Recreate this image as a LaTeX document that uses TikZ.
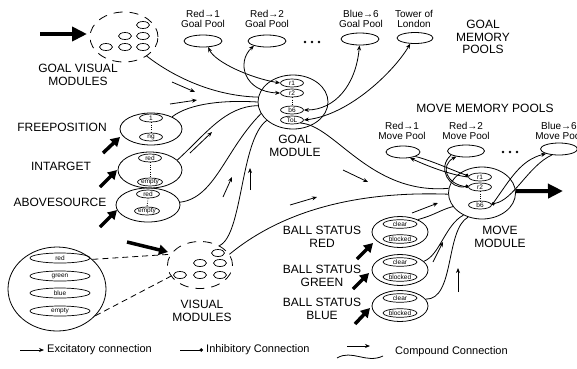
\documentclass[tikz,border=0pt]{standalone}
\usepackage{fontspec}
\setmainfont{Liberation Sans}
\usetikzlibrary{shapes.geometric,arrows.meta}
% cell inside a module: name, x, y, text
\newcommand{\slot}[4]{\node[slot] (#1) at (#2,#3) {#4};}
\newcommand{\bcell}[4]{\node[slot, minimum width=34pt, minimum height=8.5pt] (#1) at (#2,#3) {#4};}
\newcommand{\dotcell}[3]{\node[dotcell] (#1) at (#2,#3) {};}
% compound mark: name, x1, y1, x2, y2
\newcommand{\cmark}[5]{\coordinate (#1a) at (#2,#3); \coordinate (#1b) at (#4,#5); \draw[exc] (#1a) -- (#1b);}
% thick input arrow: name, x1, y1, x2, y2
\newcommand{\inarrow}[5]{\coordinate (#1a) at (#2,#3); \coordinate (#1b) at (#4,#5); \draw[midarr] (#1a) -- (#1b);}

\tikzset{
  lbl/.style={align=center, font=\fontsize{12}{12.5}\selectfont, inner sep=0pt},
  poollbl/.style={align=center, font=\fontsize{10}{10.5}\selectfont, inner sep=0pt},
  legtxt/.style={anchor=west, font=\fontsize{11}{11}\selectfont, inner sep=0pt},
  pool/.style={draw, ellipse, line width=0.8pt, minimum width=38pt, minimum height=12pt, inner sep=0pt},
  modl/.style={draw, ellipse, line width=0.8pt, inner sep=0pt},
  slot/.style={draw, ellipse, line width=0.7pt, minimum width=23pt, minimum height=8pt, inner sep=0pt, font=\fontsize{6.5}{6.5}\selectfont},
  ecell/.style={draw, ellipse, line width=0.7pt, minimum width=60pt, minimum height=10pt, inner sep=0pt, font=\fontsize{6.5}{6.5}\selectfont},
  dotcell/.style={draw, ellipse, line width=0.7pt, minimum width=13pt, minimum height=7pt, inner sep=0pt},
  dashring/.style={draw, ellipse, line width=0.8pt, dash pattern=on 9pt off 7pt, inner sep=0pt},
  link/.style={line width=0.8pt},
  exc/.style={line width=0.8pt, -{Stealth[length=5pt,width=4pt]}},
  biexc/.style={line width=0.8pt, {Stealth[length=5pt,width=4pt]}-{Stealth[length=5pt,width=4pt]}},
  inh/.style={line width=0.8pt, -{Circle[length=3.5pt]}},
  bigarr/.style={line width=4pt, -{Triangle[length=15pt,width=14pt]}},
  midarr/.style={line width=3.5pt, -{Triangle[length=9pt,width=10pt]}},
  vdots/.style={line width=0.8pt, dash pattern=on 0.8pt off 1.5pt},
}

\begin{document}
\begin{tikzpicture}[x=1pt, y=-1pt]
        \useasboundingbox (0,0) rectangle (577,368);
        \clip (0,0) rectangle (577,368);
        % goal visual modules
        \node[dashring, minimum width=68pt, minimum height=50pt] (gvm) at (124,37) {};
        \dotcell{g1}{143}{25}
        \dotcell{g2}{125}{36}
        \dotcell{g3}{143}{36}
        \dotcell{g4}{106}{47}
        \dotcell{g5}{125}{47}
        \dotcell{g6}{143}{47}
        \node[lbl] (lgvm) at (78,75) {GOAL VISUAL\\MODULES};
        \coordinate (gin) at (40,34);
        \coordinate (gtip) at (87,34);
        \draw[bigarr] (gin) -- (gtip);
        % goal memory pools
        \node[pool] (gp1) at (203,41) {};
        \node[poollbl] (lgp1) at (203,19) {Red→1\\Goal Pool};
        \node[pool] (gp2) at (267,41) {};
        \node[poollbl] (lgp2) at (267,19) {Red→2\\Goal Pool};
        \node[pool] (gp6) at (360,39) {};
        \node[poollbl] (lgp6) at (361,19) {Blue→6\\Goal Pool};
        \node[pool, minimum width=36pt, minimum height=11pt] (gtol) at (415,38) {};
        \node[poollbl] (lgtol) at (414,19) {Tower of\\London};
        \node[lbl] (lgmp) at (483,37) {GOAL\\MEMORY\\POOLS};
        \foreach \i in {0,1,2} \fill (305+7*\i,42) circle (1.4pt);
        % goal module
        \node[modl, minimum width=70pt, minimum height=54pt] (gm) at (293,102) {};
        \slot{gr1}{292}{83}{r1}
        \slot{gr2}{292}{93}{r2}
        \slot{gb6}{292}{110}{b6}
        \slot{gtl}{292}{120}{ToL}
        \draw[vdots] (gr2.south) -- (gb6.north);
        \node[lbl] (lgm) at (295,146) {GOAL\\MODULE};
        % move module
        \node[modl, minimum width=67pt, minimum height=52pt] (mm) at (482,193) {};
        \slot{mr1}{480}{177}{r1}
        \slot{mr2}{480}{187}{r2}
        \slot{mb6}{480}{205}{b6}
        \draw[vdots] (mr2.south) -- (mb6.north);
        \node[lbl] (lmm) at (500,237) {MOVE\\MODULE};
        \coordinate (mout) at (563,191);
        \draw[bigarr] (mm.3) -- (mout);
        % move memory pools
        \node[lbl] (lmmp) at (485,108) {MOVE MEMORY POOLS};
        \node[pool, minimum width=34pt] (mp1) at (403,152) {};
        \node[poollbl] (lmp1) at (402,131) {Red→1\\Move Pool};
        \node[pool, minimum width=37pt] (mp2) at (466,151) {};
        \node[poollbl] (lmp2) at (466,131) {Red→2\\Move Pool};
        \node[pool, minimum width=37pt] (mp6) at (559,149) {};
        \node[poollbl] (lmp6) at (559,131) {Blue→6\\Move Pool};
        \foreach \i in {0,1,2} \fill (503+7*\i,152) circle (1.4pt);
        % freeposition, intarget, abovesource
        \node[modl, minimum width=62pt, minimum height=32pt] (fp) at (151,129) {};
        \slot{fp1}{151}{118}{1}
        \slot{fpn}{151}{137}{ng}
        \draw[vdots] (fp1.south) -- (fpn.north);
        \node[lbl] (lfp) at (62,127) {FREEPOSITION};
        \inarrow{fpi}{103}{153}{120}{137}
        \node[modl, minimum width=64pt, minimum height=36pt] (it) at (150,170) {};
        \slot{itr}{150}{158}{red}
        \slot{ite}{150}{182}{empty}
        \draw[vdots] (itr.south) -- (ite.north);
        \node[lbl] (lit) at (61,166) {INTARGET};
        \inarrow{iti}{100}{187}{117}{170}
        \node[modl, minimum width=64pt, minimum height=34pt] (as) at (148,205) {};
        \slot{asr}{148}{194}{red}
        \slot{ase}{147}{211}{empty}
        \draw[vdots] (asr.south) -- (ase.north);
        \node[lbl] (las) at (60,202) {ABOVESOURCE};
        \inarrow{asi}{100}{227}{117}{210}
        % ball status
        \node[modl, minimum width=56pt, minimum height=31pt] (bsr) at (400,232) {};
        \bcell{bsr1}{400}{224}{clear}
        \bcell{bsr2}{400}{239}{blocked}
        \node[lbl] (lbsr) at (322,237) {BALL STATUS\\RED};
        \inarrow{bri}{357}{259}{373}{243}
        \node[modl, minimum width=56pt, minimum height=31pt] (bsg) at (400,270) {};
        \bcell{bsg1}{400}{262}{clear}
        \bcell{bsg2}{400}{277}{blocked}
        \node[lbl] (lbsg) at (322,276) {BALL STATUS\\GREEN};
        \inarrow{bgi}{353}{289}{369}{273}
        \node[modl, minimum width=56pt, minimum height=31pt] (bsb) at (400,306) {};
        \bcell{bsb1}{400}{298}{clear}
        \bcell{bsb2}{400}{313}{blocked}
        \node[lbl] (lbsb) at (322,309) {BALL STATUS\\BLUE};
        \inarrow{bbi}{355}{324}{370}{308}
        % visual modules
        \node[dashring, minimum width=65pt, minimum height=47pt] (vm) at (200,265) {};
        \dotcell{v1}{218}{253}
        \dotcell{v2}{200}{263}
        \dotcell{v3}{220}{263}
        \dotcell{v4}{180}{275}
        \dotcell{v5}{200}{275}
        \dotcell{v6}{220}{275}
        \node[lbl] (lvm) at (202,311) {VISUAL\\MODULES};
        \inarrow{vmi}{127}{242}{168}{252}
        % expanded visual module
        \node[modl, minimum width=98pt, minimum height=84pt] (ex) at (57,289) {};
        \node[ecell] (e1) at (60,258) {red};
        \node[ecell] (e2) at (60,276) {green};
        \node[ecell] (e3) at (60,293) {blue};
        \node[ecell] (e4) at (60,311) {empty};
        \draw[link, dash pattern=on 6pt off 4pt] (ex.40) -- (vm.160);
        \draw[link, dash pattern=on 6pt off 4pt] (ex.-35) -- (v4.west);
        % connections into goal module
        \draw[link] (gvm.-40) .. controls (175,78) and (215,96) .. (gm.172);
        \draw[link] (fp.30) .. controls (190,103) and (225,100) .. (gm.180);
        \draw[link] (it.20) .. controls (205,135) and (225,106) .. (gm.186);
        \draw[link] (as.5) .. controls (215,198) and (225,150) .. (gm.200);
        \draw[link] (vm.45) .. controls (243,235) and (240,140) .. (gm.215);
        \cmark{c1}{172}{82}{195}{92}
        \cmark{c2}{170}{104}{197}{100}
        \cmark{c3}{190}{153}{212}{132}
        \cmark{c4}{223}{197}{232}{177}
        \cmark{c5}{250}{190}{250}{168}
        % goal pools and goal module
        \draw[biexc] (gp1.-50) .. controls (215,62) and (250,78) .. (gr1.west);
        \draw[biexc] (gp2.-160) .. controls (236,62) and (244,92) .. (gr2.west);
        \draw[biexc] (gp6.-95) .. controls (356,85) and (335,110) .. (gb6.east);
        \draw[biexc] (gtol.-130) .. controls (395,70) and (350,115) .. (gtl.east);
        % connections into move module
        \draw[link] (gtl.-20) .. controls (335,125) and (370,195) .. (mm.172);
        \draw[link] (vm.20) .. controls (265,225) and (330,190) .. (mm.182);
        \draw[link] (bsr.35) .. controls (435,215) and (440,210) .. (mm.205);
        \draw[link] (bsg.20) .. controls (440,255) and (445,225) .. (mm.230);
        \draw[link] (bsb.15) .. controls (455,300) and (445,230) .. (mm.240);
        \cmark{c6}{343}{170}{368}{182}
        \cmark{c7}{290}{205}{317}{197}
        \cmark{c8}{412}{213}{438}{203}
        \cmark{c9}{433}{262}{443}{242}
        \cmark{c10}{458}{292}{458}{268}
        % move pools and move module
        \draw[exc] (mr1.west) .. controls (450,175) and (425,165) .. (mp1.-40);
        \draw[inh] (mp1.-20) .. controls (430,160) and (452,170) .. (mr1.175);
        \draw[exc] (mr2.west) .. controls (445,185) and (440,165) .. (mp2.-150);
        \draw[inh] (mp2.-165) .. controls (436,168) and (450,190) .. (mr2.175);
        \draw[exc] (mb6.east) .. controls (510,180) and (520,160) .. (mp6.-160);
        \draw[inh] (mp6.-140) .. controls (528,166) and (514,200) .. (mb6.5);
        % legend
        \coordinate (le1) at (20,350);
        \coordinate (le2) at (44,350);
        \draw[exc] (le1) -- (le2);
        \node[legtxt] (lex) at (47,350) {Excitatory connection};
        \coordinate (li1) at (180,350);
        \coordinate (li2) at (203,350);
        \draw[inh] (li1) -- (li2);
        \node[legtxt] (lin) at (206,350) {Inhibitory Connection};
        \coordinate (lw1) at (337,358);
        \coordinate (lw2) at (383,356);
        \draw[link] (lw1) .. controls (352,349) and (366,364) .. (lw2);
        \cmark{lc}{347}{346}{370}{346}
        \node[legtxt] (lco) at (395,352) {Compound Connection};
\end{tikzpicture}
\end{document}
